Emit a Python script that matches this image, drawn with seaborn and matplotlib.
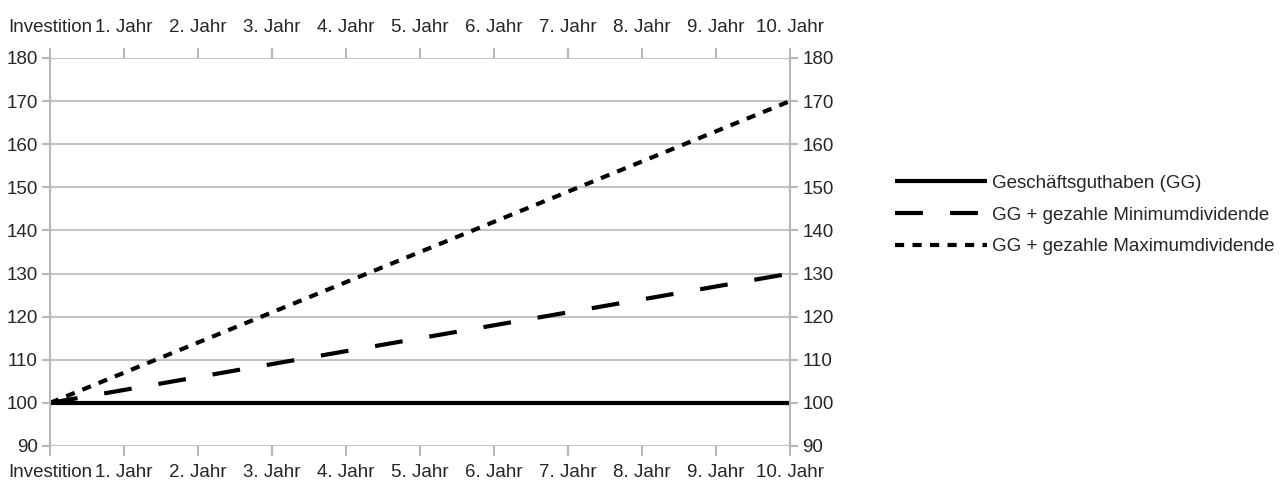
import matplotlib
matplotlib.use("Agg")
import matplotlib.pyplot as plt
import seaborn as sns
import pandas as pd

# values
categories = ["Investition", "1. Jahr", "2. Jahr", "3. Jahr", "4. Jahr", "5. Jahr",
              "6. Jahr", "7. Jahr", "8. Jahr", "9. Jahr", "10. Jahr"]
guthaben = [100, 100, 100, 100, 100, 100, 100, 100, 100, 100, 100]
min_dividende = [100, 103, 106, 109, 112, 115, 118, 121, 124, 127, 130]
max_dividende = [100, 107, 114, 121, 128, 135, 142, 149, 156, 163, 170]
y_ticks = [90, 100, 110, 120, 130, 140, 150, 160, 170, 180]

labels = ["Geschäftsguthaben (GG)", "GG + gezahle Minimumdividende",
          "GG + gezahle Maximumdividende"]

sns.set_style("white")
plt.rcParams["font.family"] = ["Liberation Sans", "DejaVu Sans"]
fs = 13.5
gray = "#b8b8b8"

df = pd.DataFrame({"jahr": categories, "gg": guthaben,
                   "min": min_dividende, "max": max_dividende})

fig = plt.figure(figsize=(12.81, 4.88), dpi=100)
ax = fig.add_axes([50 / 1281, 42 / 488, 740 / 1281, 388 / 488])

sns.lineplot(data=df, x="jahr", y="gg", color="black", lw=3.0, ax=ax,
             label=labels[0], sort=False, solid_capstyle="butt")
sns.lineplot(data=df, x="jahr", y="min", color="black", lw=3.0, ax=ax,
             label=labels[1], sort=False, linestyle=(0, (6.7, 6.5)),
             dash_capstyle="butt")
sns.lineplot(data=df, x="jahr", y="max", color="black", lw=3.0, ax=ax,
             label=labels[2], sort=False, linestyle=(0, (2.2, 2.0)),
             dash_capstyle="butt")

ax.set_xlim(0, len(categories) - 1)
ax.set_ylim(90, 180)
ax.set_yticks(y_ticks)
ax.set_xlabel("")
ax.set_ylabel("")

ax.yaxis.grid(True, color="#c4c4c4", lw=1.5)
ax.xaxis.grid(False)
for s in ["top", "bottom"]:
    ax.spines[s].set_visible(False)
for s in ["left", "right"]:
    ax.spines[s].set_color(gray)
    ax.spines[s].set_linewidth(1.5)

ax.tick_params(axis="x", bottom=True, labelbottom=True, length=7, width=1.5,
               color=gray, labelsize=fs, pad=6)
ax.tick_params(axis="y", left=True, right=True, labelright=True, labelleft=True,
               length=6, width=1.5, color=gray, labelsize=fs, pad=3)

# category labels repeated along the top
top = ax.secondary_xaxis("top")
top.set_xticks(range(len(categories)), categories)
top.spines["top"].set_visible(False)
top.tick_params(length=7, width=1.5, color=gray, labelsize=fs, pad=9)

ax.legend(loc="center left", bbox_to_anchor=(895 / 1281, 1 - 215 / 488),
          bbox_transform=fig.transFigure, frameon=False, fontsize=fs,
          handlelength=4.9, handletextpad=0.27, labelspacing=0.78,
          borderpad=0, borderaxespad=0)

fig.savefig("out.png", dpi=100)
